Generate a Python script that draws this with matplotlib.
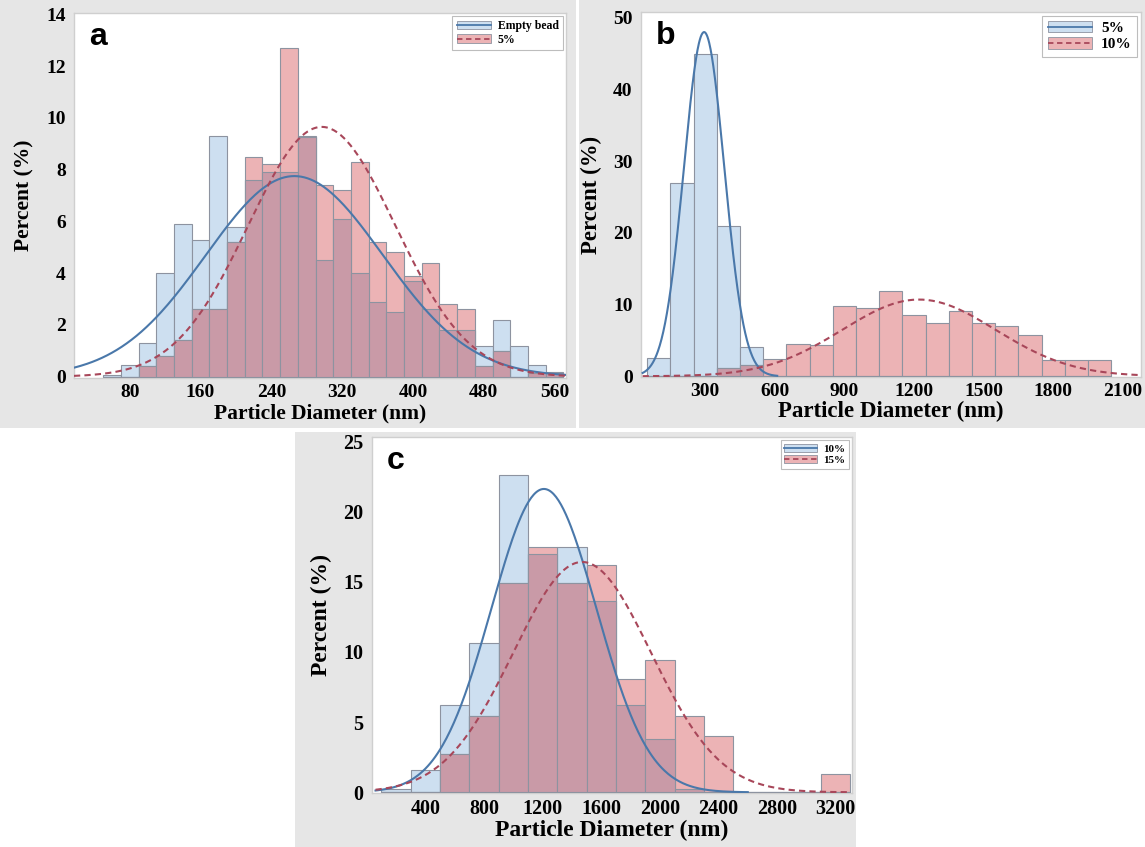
import numpy as np
import matplotlib.pyplot as plt
from matplotlib.patches import Patch, Rectangle
from matplotlib.lines import Line2D
from matplotlib.legend_handler import HandlerTuple

# ---- panel a : Empty bead vs 5% (20 nm bins) ----
a_edges = [50, 70, 90, 110, 130, 150, 170, 190, 210, 230, 250, 270, 290, 310,
           330, 350, 370, 390, 410, 430, 450, 470, 490, 510, 530, 550]
a_empty = [0.05, 0.45, 1.3, 4.0, 5.9, 5.3, 9.3, 5.8, 7.6, 7.9, 7.9, 9.25, 4.5,
           6.1, 4.0, 2.9, 2.5, 3.7, 2.6, 1.8, 1.8, 1.2, 2.2, 1.2, 0.45, 0.15]
a_5pct = [0.0, 0.0, 0.4, 0.8, 1.4, 2.6, 2.6, 5.2, 8.5, 8.2, 12.7, 9.3, 7.4,
          7.2, 8.3, 5.2, 4.8, 3.9, 4.4, 2.8, 2.6, 0.4, 1.0, 0.0, 0.15, 0.2]
a_fit_empty = (266, 100, 7.75)   # mean, sd, peak
a_fit_5pct = (297, 83, 9.65)

# ---- panel b : 5% vs 10% (100 nm bins) ----
b_edges = [50, 150, 250, 350, 450, 550, 650, 750, 850, 950, 1050, 1150, 1250,
           1350, 1450, 1550, 1650, 1750, 1850, 1950]
b_5pct = [2.6, 27.0, 45.0, 21.0, 4.1, 0, 0, 0, 0, 0, 0, 0, 0, 0, 0, 0, 0, 0, 0, 0]
b_10pct = [0, 0, 0, 1.1, 1.6, 2.4, 4.5, 4.3, 9.8, 9.5, 11.9, 8.6, 7.5, 9.1,
           7.5, 7.0, 5.7, 2.3, 2.3, 2.3]
b_fit_5pct = (295, 87, 48.0)
b_fit_10pct = (1221, 330, 10.7)

# ---- panel c : 10% vs 15% (200 nm bins) ----
c_edges = [100, 300, 500, 700, 900, 1100, 1300, 1500, 1700, 1900, 2100, 2300,
           2500, 2700, 2900, 3100]
c_10pct = [0.2, 1.6, 6.2, 10.6, 22.6, 17.0, 17.5, 13.6, 6.2, 3.8, 0.2, 0, 0, 0, 0, 0]
c_15pct = [0, 0, 2.7, 5.4, 14.9, 17.5, 14.9, 16.2, 8.1, 9.4, 5.4, 4.0, 0, 0, 0, 1.3]
c_fit_10pct = (1209, 358, 21.6)
c_fit_15pct = (1470, 470, 16.4)

BLUE_FILL = "#cddff0"
RED_FILL = "#ecb3b5"
MIX_FILL = "#c99aa7"
BLUE_LINE = "#4a78aa"
RED_LINE = "#a8475a"
EDGE = "#8d93a0"
BG = "#e6e6e6"
SERIF = "Liberation Serif"

W, H = 1145, 847
fig = plt.figure(figsize=(W / 100, H / 100), dpi=100)


def px_rect(x0, y0, x1, y1):
    return [x0 / W, 1 - y1 / H, (x1 - x0) / W, (y1 - y0) / H]


# grey panel backgrounds (behind the axes)
for x0, y0, x1, y1 in [(0, 0, 576, 428), (579, 0, 1145, 428), (295, 432, 856, 847)]:
    l, b, w, h = px_rect(x0, y0, x1, y1)
    fig.patches.append(Rectangle((l, b), w, h, transform=fig.transFigure,
                                 facecolor=BG, edgecolor="none", zorder=-5))


def gauss(fit, x):
    mu, sd, peak = fit
    return peak * np.exp(-(x - mu) ** 2 / (2 * sd ** 2))


def panel(rect, letter, edges, blue, red, fit_b, fit_r, xlim, ylim, xticks, yticks,
          names, blue_range, red_range, leg_size, lab_size, tick_size, xpad):
    ax = fig.add_axes(px_rect(*rect))
    width = edges[1] - edges[0]
    both = np.minimum(blue, red)
    ax.bar(edges, blue, width=width, align="edge", color=BLUE_FILL,
           edgecolor=EDGE, linewidth=0.8, zorder=2)
    ax.bar(edges, red, width=width, align="edge", color=RED_FILL,
           edgecolor=EDGE, linewidth=0.8, zorder=3)
    ax.bar(edges, both, width=width, align="edge", color=MIX_FILL,
           edgecolor=EDGE, linewidth=0.8, zorder=3.5)
    xb = np.linspace(blue_range[0], blue_range[1], 300)
    xr = np.linspace(red_range[0], red_range[1], 300)
    ax.plot(xb, gauss(fit_b, xb), color=BLUE_LINE, lw=1.5, zorder=4)
    ax.plot(xr, gauss(fit_r, xr), color=RED_LINE, lw=1.5, ls=(0, (3, 2)), zorder=4)

    ax.set_xlim(*xlim)
    ax.set_ylim(*ylim)
    ax.set_xticks(xticks)
    ax.set_yticks(yticks)
    ax.tick_params(length=0, labelsize=tick_size, pad=6)
    ax.tick_params(axis="x", pad=4)
    for lab in ax.get_xticklabels() + ax.get_yticklabels():
        lab.set_fontfamily(SERIF)
        lab.set_fontweight("bold")
    for sp in ax.spines.values():
        sp.set_color("#cfcfcf")
        sp.set_linewidth(1.0)
    ax.set_xlabel("Particle Diameter (nm)", fontfamily=SERIF, fontweight="bold",
                  fontsize=lab_size, labelpad=xpad)
    ax.set_ylabel("Percent (%)", fontfamily=SERIF, fontweight="bold",
                  fontsize=lab_size, labelpad=8)
    ax.text(0.03, 0.975, letter, transform=ax.transAxes, fontsize=23,
            fontweight="bold", fontfamily="Liberation Sans", va="top", ha="left")

    hb = (Patch(facecolor=BLUE_FILL, edgecolor=EDGE, linewidth=0.6),
          Line2D([], [], color=BLUE_LINE, lw=1.3))
    hr = (Patch(facecolor=RED_FILL, edgecolor=EDGE, linewidth=0.6),
          Line2D([], [], color=RED_LINE, lw=1.3, ls=(0, (3, 2))))
    leg = ax.legend([hb, hr], names, handler_map={tuple: HandlerTuple(ndivide=1, pad=0)},
                    loc="upper right", fancybox=False, framealpha=1, edgecolor="#bdbdbd",
                    prop={"family": SERIF, "weight": "bold", "size": leg_size},
                    handlelength=2.9, handleheight=0.75, labelspacing=0.15,
                    borderpad=0.35, handletextpad=0.6, borderaxespad=0.25)
    leg.get_frame().set_linewidth(0.8)
    return ax


panel((74, 13, 566, 378), "a", a_edges, a_empty, a_5pct, a_fit_empty, a_fit_5pct,
      (17, 573), (-0.05, 14.05), [80, 160, 240, 320, 400, 480, 560],
      [0, 2, 4, 6, 8, 10, 12, 14], ["Empty bead", "5%"], (17, 573), (17, 573),
      8.5, 15.5, 14, 2)

panel((641, 12, 1141, 377), "b", b_edges, b_5pct, b_10pct, b_fit_5pct, b_fit_10pct,
      (23, 2178), (-0.1, 50.8), [300, 600, 900, 1200, 1500, 1800, 2100],
      [0, 10, 20, 30, 40, 50], ["5%", "10%"], (30, 610), (30, 2178),
      11, 16.5, 14, 1)

panel((372, 437, 852, 793), "c", c_edges, c_10pct, c_15pct, c_fit_10pct, c_fit_15pct,
      (36, 3311), (-0.05, 25.3), [400, 800, 1200, 1600, 2000, 2400, 2800, 3200],
      [0, 5, 10, 15, 20, 25], ["10%", "15%"], (60, 2600), (60, 3300),
      8, 17, 14.5, 1)

fig.savefig("out.png", dpi=100, facecolor="white")
